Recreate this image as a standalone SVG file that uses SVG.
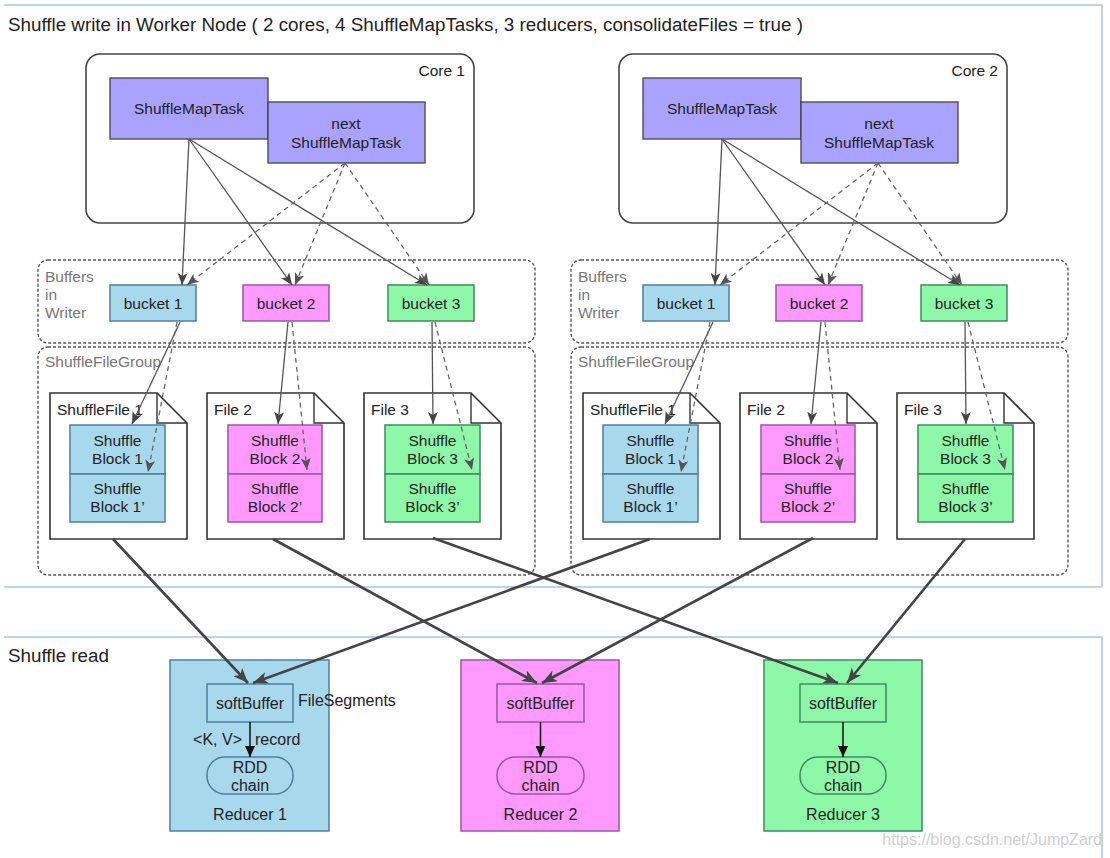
<svg xmlns="http://www.w3.org/2000/svg" width="1110" height="858" viewBox="0 0 1110 858">
<defs>
<style>
.frame{fill:none;stroke:#a9c8e2;stroke-width:1.5}
.core{fill:#fff;stroke:#444;stroke-width:1.6}
.task{fill:#a9a3ff;stroke:#444;stroke-width:1.3}
.grp{fill:none;stroke:#555;stroke-width:1.4;stroke-dasharray:3 2}
.blue{fill:#a8d8ec;stroke:#4f7fa0;stroke-width:1.5}
.pink{fill:#ff99ff;stroke:#9a55a8;stroke-width:1.5}
.green{fill:#8cf8a8;stroke:#3f8a60;stroke-width:1.5}
.file{fill:#fff;stroke:#333;stroke-width:1.6}
.fold{fill:none;stroke:#333;stroke-width:1.4}
.t{font-family:"Liberation Sans",Arial,sans-serif;font-size:15.5px;fill:#222}
.r{font-size:16px}
.c{text-anchor:middle}
.gray{fill:#777}
.thin{stroke:#555;stroke-width:1.3;fill:none;marker-end:url(#ah)}
.dash{stroke:#666;stroke-width:1.3;fill:none;stroke-dasharray:5 4;marker-end:url(#ahd)}
.thick{stroke:#444;stroke-width:2.6;fill:none;marker-end:url(#ahk)}
.inner{stroke:#111;stroke-width:1.5;fill:none;marker-end:url(#ahb)}
</style>
<marker id="ah" markerUnits="userSpaceOnUse" markerWidth="13" markerHeight="10" refX="12" refY="5" orient="auto"><path d="M0,0 L12,5 L0,10 L3,5 z" fill="#444"/></marker>
<marker id="ahd" markerUnits="userSpaceOnUse" markerWidth="13" markerHeight="10" refX="12" refY="5" orient="auto"><path d="M0,0 L12,5 L0,10 L3,5 z" fill="#555"/></marker>
<marker id="ahk" markerUnits="userSpaceOnUse" markerWidth="16" markerHeight="12" refX="15" refY="6" orient="auto"><path d="M0,0 L15,6 L0,12 L4,6 z" fill="#444"/></marker>
<marker id="ahb" markerUnits="userSpaceOnUse" markerWidth="12" markerHeight="10" refX="11" refY="5" orient="auto"><path d="M0,0 L11,5 L0,10 z" fill="#111"/></marker>
</defs>
<rect width="1110" height="858" fill="#fff"/>

<g id="frames">
<path class="frame" d="M4,5 H1102 V587 H4"/>
<path class="frame" d="M4,637 H1102 V858"/>
<text class="t" x="8" y="31" style="font-size:18.8px">Shuffle write in Worker Node ( 2 cores, 4 ShuffleMapTasks, 3 reducers, consolidateFiles = true )</text>
<text class="t" x="8" y="662" style="font-size:18.8px">Shuffle read</text>
<text class="t" x="1102" y="845" style="font-size:16px;fill:#cfcfcf;text-anchor:end">https://blog.csdn.net/JumpZard</text>
</g>

<!-- Left half -->
<g id="core1">
<rect class="core" x="86" y="54" width="388" height="169" rx="14"/>
<text class="t" x="465" y="76" text-anchor="end">Core 1</text>
</g>
<g id="task1">
<rect class="task" x="110" y="78" width="158" height="61"/>
<text class="t c" x="189" y="114">ShuffleMapTask</text>
</g>
<g id="nexttask1">
<rect class="task" x="268" y="102" width="157" height="61"/>
<text class="t c" x="346" y="129">next</text>
<text class="t c" x="346" y="148">ShuffleMapTask</text>
</g>
<g id="buffers1">
<rect class="grp" x="38" y="260" width="497" height="83" rx="10"/>
<text class="t gray" x="45" y="282">Buffers</text>
<text class="t gray" x="45" y="300">in</text>
<text class="t gray" x="45" y="318">Writer</text>
</g>
<g id="bucket1-1"><rect class="blue" x="110" y="285" width="86" height="36"/><text class="t c" x="153" y="309">bucket 1</text></g>
<g id="bucket2-1"><rect class="pink" x="243" y="285" width="86" height="36"/><text class="t c" x="286" y="309">bucket 2</text></g>
<g id="bucket3-1"><rect class="green" x="388" y="285" width="86" height="36"/><text class="t c" x="431" y="309">bucket 3</text></g>
<g id="filegroup1">
<rect class="grp" x="38" y="347" width="497" height="228" rx="10"/>
<text class="t gray" x="45" y="367">ShuffleFileGroup</text>
</g>
<g id="file1-1">
<path class="file" d="M50,393 H157 L187,423 V539 H50 Z"/><path class="fold" d="M157,393 V423 H187"/>
<text class="t" x="57" y="415">ShuffleFile 1</text>
<rect class="blue" x="70" y="425" width="95" height="49"/><rect class="blue" x="70" y="474" width="95" height="48"/>
<text class="t c" x="117.5" y="446">Shuffle</text><text class="t c" x="117.5" y="464">Block 1</text>
<text class="t c" x="117.5" y="494">Shuffle</text><text class="t c" x="117.5" y="512">Block 1’</text>
</g>
<g id="file2-1">
<path class="file" d="M207,393 H314 L344,423 V539 H207 Z"/><path class="fold" d="M314,393 V423 H344"/>
<text class="t" x="214" y="415">File 2</text>
<rect class="pink" x="228" y="425" width="94" height="49"/><rect class="pink" x="228" y="474" width="94" height="48"/>
<text class="t c" x="275" y="446">Shuffle</text><text class="t c" x="275" y="464">Block 2</text>
<text class="t c" x="275" y="494">Shuffle</text><text class="t c" x="275" y="512">Block 2’</text>
</g>
<g id="file3-1">
<path class="file" d="M364,393 H471 L501,423 V539 H364 Z"/><path class="fold" d="M471,393 V423 H501"/>
<text class="t" x="371" y="415">File 3</text>
<rect class="green" x="385" y="425" width="95" height="49"/><rect class="green" x="385" y="474" width="95" height="48"/>
<text class="t c" x="432.5" y="446">Shuffle</text><text class="t c" x="432.5" y="464">Block 3</text>
<text class="t c" x="432.5" y="494">Shuffle</text><text class="t c" x="432.5" y="512">Block 3’</text>
</g>

<!-- Right half -->
<g id="core2" transform="translate(533,0)">
<rect class="core" x="86" y="54" width="388" height="169" rx="14"/>
<text class="t" x="465" y="76" text-anchor="end">Core 2</text>
</g>
<g id="task2" transform="translate(533,0)">
<rect class="task" x="110" y="78" width="158" height="61"/>
<text class="t c" x="189" y="114">ShuffleMapTask</text>
</g>
<g id="nexttask2" transform="translate(533,0)">
<rect class="task" x="268" y="102" width="157" height="61"/>
<text class="t c" x="346" y="129">next</text>
<text class="t c" x="346" y="148">ShuffleMapTask</text>
</g>
<g id="buffers2" transform="translate(533,0)">
<rect class="grp" x="38" y="260" width="497" height="83" rx="10"/>
<text class="t gray" x="45" y="282">Buffers</text>
<text class="t gray" x="45" y="300">in</text>
<text class="t gray" x="45" y="318">Writer</text>
</g>
<g id="bucket1-2" transform="translate(533,0)"><rect class="blue" x="110" y="285" width="86" height="36"/><text class="t c" x="153" y="309">bucket 1</text></g>
<g id="bucket2-2" transform="translate(533,0)"><rect class="pink" x="243" y="285" width="86" height="36"/><text class="t c" x="286" y="309">bucket 2</text></g>
<g id="bucket3-2" transform="translate(533,0)"><rect class="green" x="388" y="285" width="86" height="36"/><text class="t c" x="431" y="309">bucket 3</text></g>
<g id="filegroup2" transform="translate(533,0)">
<rect class="grp" x="38" y="347" width="497" height="228" rx="10"/>
<text class="t gray" x="45" y="367">ShuffleFileGroup</text>
</g>
<g id="file1-2" transform="translate(533,0)">
<path class="file" d="M50,393 H157 L187,423 V539 H50 Z"/><path class="fold" d="M157,393 V423 H187"/>
<text class="t" x="57" y="415">ShuffleFile 1</text>
<rect class="blue" x="70" y="425" width="95" height="49"/><rect class="blue" x="70" y="474" width="95" height="48"/>
<text class="t c" x="117.5" y="446">Shuffle</text><text class="t c" x="117.5" y="464">Block 1</text>
<text class="t c" x="117.5" y="494">Shuffle</text><text class="t c" x="117.5" y="512">Block 1’</text>
</g>
<g id="file2-2" transform="translate(533,0)">
<path class="file" d="M207,393 H314 L344,423 V539 H207 Z"/><path class="fold" d="M314,393 V423 H344"/>
<text class="t" x="214" y="415">File 2</text>
<rect class="pink" x="228" y="425" width="94" height="49"/><rect class="pink" x="228" y="474" width="94" height="48"/>
<text class="t c" x="275" y="446">Shuffle</text><text class="t c" x="275" y="464">Block 2</text>
<text class="t c" x="275" y="494">Shuffle</text><text class="t c" x="275" y="512">Block 2’</text>
</g>
<g id="file3-2" transform="translate(533,0)">
<path class="file" d="M364,393 H471 L501,423 V539 H364 Z"/><path class="fold" d="M471,393 V423 H501"/>
<text class="t" x="371" y="415">File 3</text>
<rect class="green" x="385" y="425" width="95" height="49"/><rect class="green" x="385" y="474" width="95" height="48"/>
<text class="t c" x="432.5" y="446">Shuffle</text><text class="t c" x="432.5" y="464">Block 3</text>
<text class="t c" x="432.5" y="494">Shuffle</text><text class="t c" x="432.5" y="512">Block 3’</text>
</g>

<!-- Reducers -->
<g id="reducer1">
<rect class="blue" x="170" y="660" width="159" height="171"/>
<rect class="blue" x="207" y="684" width="86" height="38"/>
<text class="t r c" x="250" y="709">softBuffer</text>
<rect class="blue" x="207" y="757" width="86" height="37" rx="18"/>
<text class="t r c" x="250" y="773">RDD</text>
<text class="t r c" x="250" y="791">chain</text>
<text class="t r c" x="250" y="820">Reducer 1</text>
</g>
<g id="reducer2">
<rect class="pink" x="461" y="660" width="158" height="171"/>
<rect class="pink" x="497" y="684" width="87" height="38"/>
<text class="t r c" x="540.5" y="709">softBuffer</text>
<rect class="pink" x="497" y="757" width="87" height="37" rx="18"/>
<text class="t r c" x="540.5" y="773">RDD</text>
<text class="t r c" x="540.5" y="791">chain</text>
<text class="t r c" x="540.5" y="820">Reducer 2</text>
</g>
<g id="reducer3">
<rect class="green" x="764" y="660" width="158" height="171"/>
<rect class="green" x="800" y="684" width="86" height="38"/>
<text class="t r c" x="843" y="709">softBuffer</text>
<rect class="green" x="800" y="757" width="86" height="37" rx="18"/>
<text class="t r c" x="843" y="773">RDD</text>
<text class="t r c" x="843" y="791">chain</text>
<text class="t r c" x="843" y="820">Reducer 3</text>
</g>

<g id="connectors">
<path class="thin" d="M189,139 L182,285"/>
<path class="thin" d="M189,139 L292,285"/>
<path class="thin" d="M189,139 L427,285"/>
<path class="dash" d="M345,163 L187,285"/>
<path class="dash" d="M345,163 L295,285"/>
<path class="dash" d="M345,163 L429,285"/>
<path class="thin" d="M180,322 L132,424"/>
<path class="dash" d="M177,322 L148,472"/>
<path class="thin" d="M288,322 L278,424"/>
<path class="dash" d="M292,322 L307,470"/>
<path class="thin" d="M432,322 L433,424"/>
<path class="dash" d="M435,322 L472,470"/>
<g transform="translate(533,0)">
<path class="thin" d="M189,139 L182,285"/>
<path class="thin" d="M189,139 L292,285"/>
<path class="thin" d="M189,139 L427,285"/>
<path class="dash" d="M345,163 L187,285"/>
<path class="dash" d="M345,163 L295,285"/>
<path class="dash" d="M345,163 L429,285"/>
<path class="thin" d="M180,322 L132,424"/>
<path class="dash" d="M177,322 L148,472"/>
<path class="thin" d="M288,322 L278,424"/>
<path class="dash" d="M292,322 L307,470"/>
<path class="thin" d="M432,322 L433,424"/>
<path class="dash" d="M435,322 L472,470"/>
</g>
<path class="thick" d="M113,539 L248,683"/>
<path class="thick" d="M650,539 L253,683"/>
<path class="thick" d="M273,539 L537,683"/>
<path class="thick" d="M813,538 L542,683"/>
<path class="thick" d="M433,538 L838,683"/>
<path class="thick" d="M965,539 L847,683"/>
<path class="inner" d="M250,722 L250,757"/>
<path class="inner" d="M540.5,722 L540.5,757"/>
<path class="inner" d="M843,722 L843,757"/>
<text class="t r" x="298" y="706">FileSegments</text>
<text class="t r" x="242" y="745" text-anchor="end">&lt;K, V&gt;</text>
<text class="t r" x="255" y="745">record</text>
</g>
</svg>
